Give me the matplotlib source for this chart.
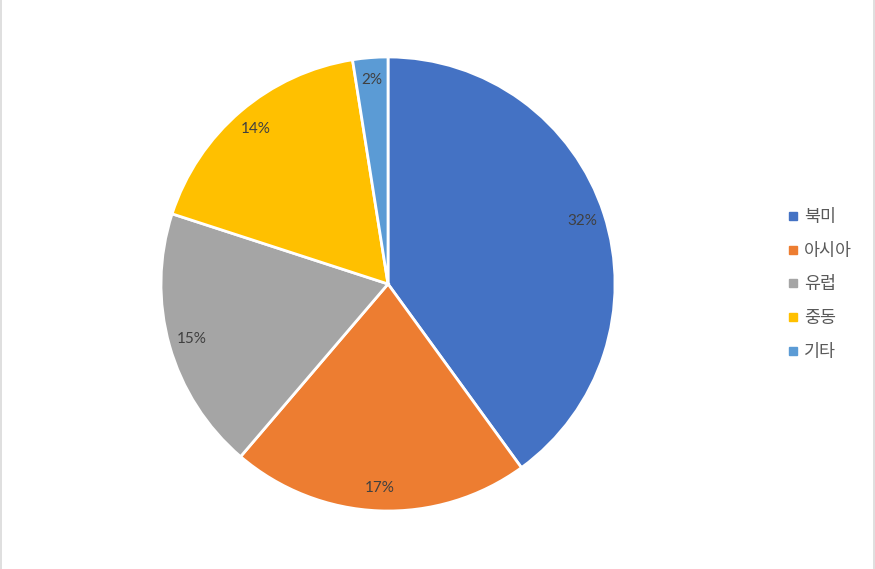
import matplotlib
matplotlib.use("Agg")
import matplotlib.pyplot as plt
from matplotlib.lines import Line2D

plt.rcParams['font.family'] = ['Noto Sans CJK KR', 'DejaVu Sans']

regions = ["북미", "아시아", "유럽", "중동", "기타"]
shares = [32, 17, 15, 14, 2]
colors = ["#4472C4", "#ED7D31", "#A5A5A5", "#FFC000", "#5B9BD5"]

fig = plt.figure(figsize=(8.75, 5.69), dpi=100)
ax = fig.add_axes([0.4434 - 0.2594, 0.5009 - 0.399, 0.5189, 0.798])

wedges, texts = ax.pie(
    shares, colors=colors, startangle=90, counterclock=False,
    labels=[f"{v}%" for v in shares], labeldistance=0.9,
    wedgeprops=dict(edgecolor="white", linewidth=2),
    textprops=dict(color="#404040", fontsize=11, ha="center", va="center",
                   family=["Lato", "DejaVu Sans"]),
)
ax.set_xlim(-1, 1)
ax.set_ylim(-1, 1)
ax.set_aspect("equal")

handles = [Line2D([0], [0], marker="s", linestyle="none", markersize=6,
                  markerfacecolor=c, markeredgecolor=c) for c in colors]
fig.legend(handles, regions, loc="center left", bbox_to_anchor=(0.879, 0.5),
           frameon=False, fontsize=12.5, labelcolor="#595959",
           handletextpad=0.1, labelspacing=0.9, handlelength=1.0)

# light chart border at the sides
fig.add_artist(Line2D([0.5 / 875, 0.5 / 875], [0, 1], color="#D9D9D9", lw=1.2))
fig.add_artist(Line2D([1 - 1.5 / 875, 1 - 1.5 / 875], [0, 1], color="#D9D9D9", lw=1.2))

fig.savefig("out.png", dpi=100, facecolor="white")
